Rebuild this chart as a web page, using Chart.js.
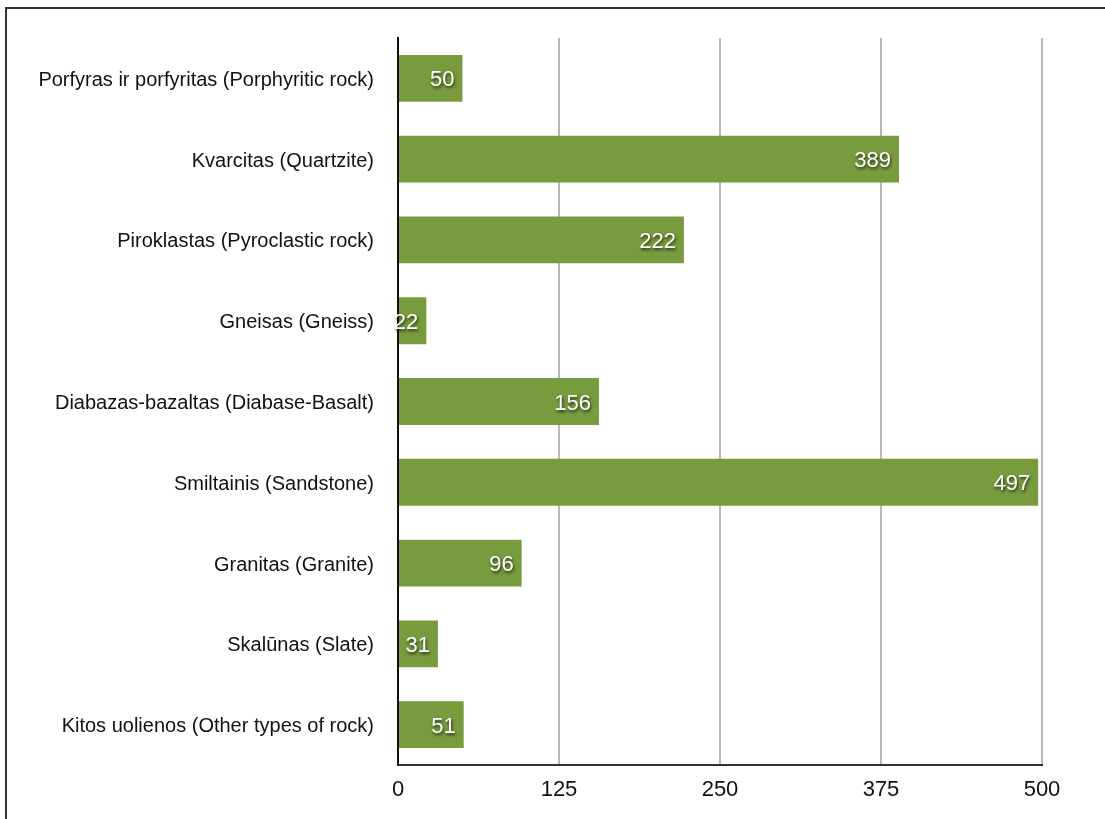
<!DOCTYPE html>
<html lang="lt">
<head>
  <meta charset="UTF-8" />
  <title>Uolienų tipai</title>
  <script src="https://cdn.jsdelivr.net/npm/chart.js"></script>
  <style>
    html, body { margin: 0; padding: 0; background: #fff; }
    #wrap { position: relative; width: 1105px; height: 819px; overflow: hidden; }
    #frame { position: absolute; left: 5px; top: 7px; right: -10px; bottom: -10px;
             border-left: 2px solid #333; border-top: 2px solid #333; }
    canvas { position: absolute; left: 0; top: 0; }
  </style>
</head>
<body>
  <div id="wrap">
    <div id="frame"></div>
    <canvas id="rockChart" width="1105" height="819"></canvas>
  </div>

  <script>
    const rockTypes = [
      'Porfyras ir porfyritas (Porphyritic rock)',
      'Kvarcitas (Quartzite)',
      'Piroklastas (Pyroclastic rock)',
      'Gneisas (Gneiss)',
      'Diabazas-bazaltas (Diabase-Basalt)',
      'Smiltainis (Sandstone)',
      'Granitas (Granite)',
      'Skalūnas (Slate)',
      'Kitos uolienos (Other types of rock)'
    ];
    const counts = [50, 389, 222, 22, 156, 497, 96, 31, 51];
    const axisTicks = [0, 125, 250, 375, 500];

    const font = '"Liberation Sans", Arial, Helvetica, sans-serif';

    // white numbers with a soft drop shadow, right-aligned inside each bar
    const valueLabels = {
      id: 'valueLabels',
      afterDatasetsDraw(chart) {
        const ctx = chart.ctx;
        const meta = chart.getDatasetMeta(0);
        ctx.save();
        ctx.font = '22px ' + font;
        ctx.fillStyle = '#fff';
        ctx.textAlign = 'right';
        ctx.textBaseline = 'middle';
        ctx.shadowColor = 'rgba(0,0,0,0.7)';
        ctx.shadowOffsetX = 1;
        ctx.shadowOffsetY = 2;
        ctx.shadowBlur = 3;
        meta.data.forEach((bar, i) => {
          ctx.fillText(String(counts[i]), bar.x - 8, bar.y + 2);
        });
        ctx.restore();
      }
    };

    new Chart(document.getElementById('rockChart'), {
      type: 'bar',
      data: {
        labels: rockTypes,
        datasets: [{
          data: counts,
          backgroundColor: '#789b3e',
          borderWidth: 0,
          barPercentage: 0.58,
          categoryPercentage: 1
        }]
      },
      options: {
        indexAxis: 'y',
        responsive: false,
        animation: false,
        layout: { padding: { left: 0, right: 63, top: 38, bottom: 0 } },
        plugins: { legend: { display: false }, tooltip: { enabled: false } },
        scales: {
          x: {
            min: 0,
            max: 500,
            afterBuildTicks(scale) {
              scale.ticks = axisTicks.map(v => ({ value: v }));
            },
            afterFit(scale) { scale.height = 54; },
            grid: { color: '#b8b8b8', lineWidth: 2, drawTicks: false },
            border: { display: true, color: '#333', width: 2 },
            ticks: { color: '#111', font: { family: font, size: 22 }, padding: 12 }
          },
          y: {
            afterFit(scale) { scale.width = 398; },
            grid: { display: false },
            border: { display: true, color: '#111', width: 2 },
            ticks: { color: '#111', font: { family: font, size: 20 }, padding: 16, labelOffset: 2 }
          }
        }
      },
      plugins: [valueLabels]
    });
  </script>
</body>
</html>
